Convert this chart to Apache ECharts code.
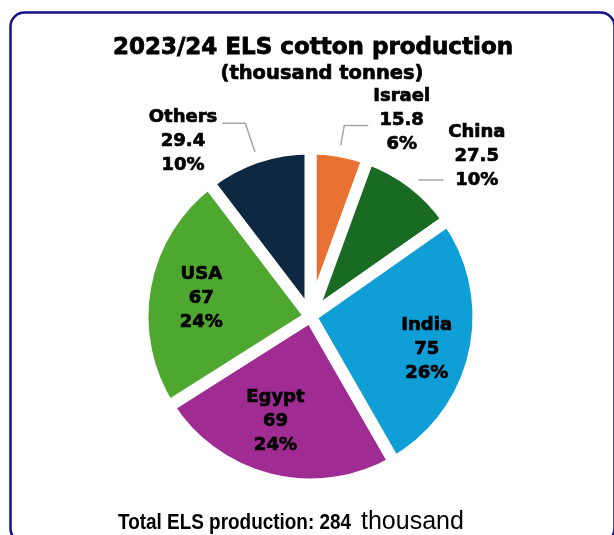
<!DOCTYPE html>
<html>
<head>
<meta charset="utf-8">
<script src="https://cdn.jsdelivr.net/npm/echarts@6/dist/echarts.min.js"></script>
<style>
  html, body { margin: 0; padding: 0; background: #ffffff; }
  #chart { width: 614px; height: 535px; }
</style>
</head>
<body>
<div id="chart"></div>
<script>
// ELS cotton production by origin, 2023/24 (thousand tonnes)
const countries = ['Israel', 'China', 'India', 'Egypt', 'USA', 'Others'];
const production = [15.8, 27.5, 75, 69, 67, 29.4];
const sliceColors = ['#E97132', '#196B24', '#0F9ED5', '#A02B93', '#4EA72E', '#0E2841'];
const insideLabelled = ['India', 'Egypt', 'USA'];

const titleText = '2023/24 ELS cotton production';
const unitText = '(thousand tonnes)';
const totalText = 'Total ELS production: 284';
const totalUnit = 'thousand';

// leader-line geometry for the slices labelled outside the pie
const outsideLabelStyle = {
  Israel: { length: 26, length2: 24, padding: [0, 0, 10, 0] },
  China:  { length: 4,  length2: 28, padding: [0, 0, 48, 0] },
  Others: { length: 36, length2: 23, padding: [36, 0, 0, 0] }
};
// small nudges for the labels placed on the slices
const insideLabelNudge = {
  India: [2, 7],
  Egypt: [-7, -9],
  USA: [6, 3]
};

const labelFont = {
  fontFamily: 'DejaVu Sans', fontWeight: 'bold', fontSize: 18, color: '#000',
  textBorderColor: '#000', textBorderWidth: 0.7
};
const pieCenter = [310.5, 316.5];
const pieRadius = 168;

const pct = p => Math.round(p.percent) + '%';

const mainData = countries.map((name, i) => {
  const o = outsideLabelStyle[name];
  return {
    name,
    value: production[i],
    itemStyle: { color: sliceColors[i] },
    label: o ? { show: true, padding: o.padding } : { show: false },
    labelLine: o ? { show: true, length: o.length, length2: o.length2 } : { show: false }
  };
});

const innerData = countries.map((name, i) => ({
  name,
  value: production[i],
  label: { show: insideLabelled.includes(name) }
}));

const chart = echarts.init(document.getElementById('chart'), null, { renderer: 'canvas' });

chart.setOption({
  animation: false,
  backgroundColor: '#ffffff',
  graphic: [
    {
      type: 'rect',
      shape: { x: 10.5, y: 12.5, width: 604, height: 530, r: 14 },
      style: { fill: 'none', stroke: '#13138A', lineWidth: 2.5 },
      z: 0
    },
    {
      type: 'text',
      style: {
        x: 313, y: 48.5, text: titleText, align: 'center', verticalAlign: 'middle',
        fontFamily: 'DejaVu Sans', fontWeight: 'bold', fontSize: 23, fill: '#000',
        stroke: '#000', lineWidth: 0.8
      }
    },
    {
      type: 'text',
      style: {
        x: 322, y: 74, text: unitText, align: 'center', verticalAlign: 'middle',
        fontFamily: 'DejaVu Sans', fontWeight: 'bold', fontSize: 19.5, fill: '#000',
        stroke: '#000', lineWidth: 0.7
      }
    },
    {
      // condensed bold run of the footnote
      type: 'text',
      x: 118, y: 523.4, scaleX: 0.86, originX: 0, originY: 0,
      style: {
        x: 0, y: 0, text: totalText, align: 'left', verticalAlign: 'middle',
        fontFamily: 'Liberation Sans', fontWeight: 'bold', fontSize: 22, fill: '#000'
      }
    },
    {
      type: 'text',
      style: {
        x: 361, y: 522.3, text: totalUnit, align: 'left', verticalAlign: 'middle',
        fontFamily: 'Liberation Sans', fontSize: 25, fill: '#000'
      }
    }
  ],
  series: [
    {
      type: 'pie',
      center: pieCenter,
      radius: pieRadius,
      startAngle: 90,
      clockwise: true,
      avoidLabelOverlap: false,
      silent: true,
      itemStyle: { borderColor: '#ffffff', borderWidth: 12, borderJoin: 'round' },
      label: {
        position: 'outside',
        distanceToLabelLine: 5,
        ...labelFont,
        lineHeight: 24,
        formatter: p => `{c|${p.name}}\n{c|${p.value}}\n{c|${pct(p)}}`,
        rich: { c: { ...labelFont, lineHeight: 24, align: 'center' } }
      },
      labelLine: { smooth: false, lineStyle: { color: '#A6A6A6', width: 1.5 } },
      data: mainData
    },
    {
      // label carrier for the slices labelled on the slice itself
      type: 'pie',
      center: pieCenter,
      radius: [60, pieRadius],
      startAngle: 90,
      clockwise: true,
      silent: true,
      itemStyle: { color: 'rgba(0,0,0,0)' },
      label: {
        position: 'inner',
        ...labelFont,
        lineHeight: 24,
        formatter: p => `${p.name}\n${p.value}\n${pct(p)}`
      },
      labelLine: { show: false },
      labelLayout: p => {
        const n = insideLabelNudge[countries[p.dataIndex]];
        return n ? { dx: n[0], dy: n[1] } : {};
      },
      data: innerData
    }
  ]
});
</script>
</body>
</html>
